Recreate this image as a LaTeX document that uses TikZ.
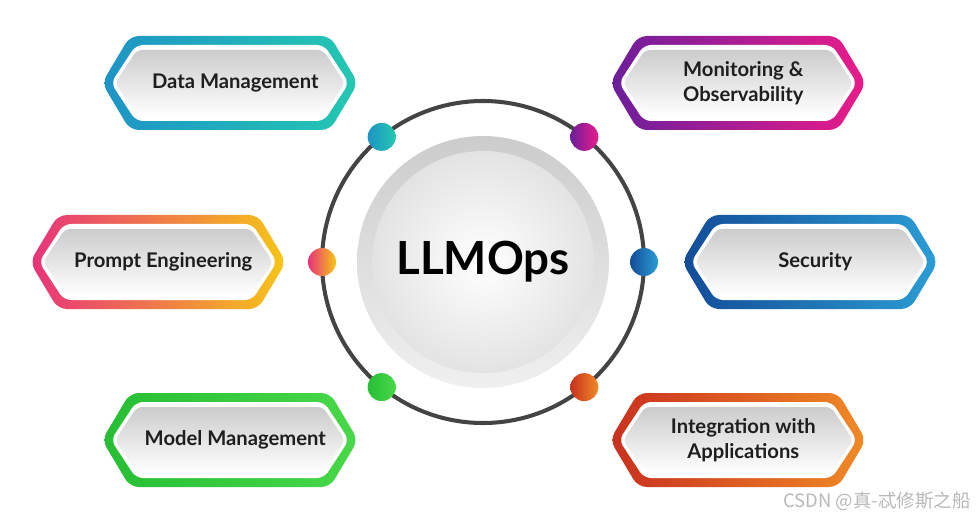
\documentclass[tikz,border=0pt]{standalone}
\usepackage{fontspec}
\setmainfont{Lato}
\newfontfamily\cjkfont{Noto Sans CJK SC}
\usepackage{tikz}
\usetikzlibrary{calc}
\definecolor{DataBlue}{HTML}{1E94C6}
\definecolor{DataTeal}{HTML}{24C8B2}
\definecolor{MonPurple}{HTML}{6C1E9C}
\definecolor{MonPink}{HTML}{EA1C8A}
\definecolor{PromptPink}{HTML}{E8327C}
\definecolor{PromptYellow}{HTML}{F6C616}
\definecolor{SecNavy}{HTML}{134C98}
\definecolor{SecSky}{HTML}{2B9DD4}
\definecolor{ModelGreen}{HTML}{26BE34}
\definecolor{ModelLime}{HTML}{48D84A}
\definecolor{IntRed}{HTML}{C9301F}
\definecolor{IntOrange}{HTML}{F08A26}
\definecolor{RingGrey}{HTML}{444444}
\definecolor{DiscGrey}{HTML}{CCCCCC}
\definecolor{TextDark}{HTML}{1E1E1E}

\newcommand{\hexpath}[3]{(-#1,0) -- (-#1+#3,#2) -- (#1-#3,#2) -- (#1,0) -- (#1-#3,-#2) -- (-#1+#3,-#2) -- cycle}
\newcommand{\hexbox}[5]{%
  \begin{scope}[shift={(#2)}]
    \shade[rounded corners=5pt,left color=#3,right color=#4] \hexpath{128}{47}{28};
    \fill[white,rounded corners=4pt] \hexpath{119}{38}{25};
    \shade[rounded corners=3pt,top color=DiscGrey,bottom color=white] \hexpath{115}{33}{22};
  \end{scope}
  \node[boxlabel] (#1) at (#2) {#5};}

\begin{document}
\begin{tikzpicture}[x=0.02cm,y=0.02cm,
  boxlabel/.style={font=\fontsize{11.5}{14}\selectfont\bfseries,text=TextDark,align=center,xshift=3pt}]
  \useasboundingbox (0,0) rectangle (976,521);
  \fill[white] (0,0) rectangle (976,521);
  % hub
  \coordinate (hub) at (483,259);
  \draw[RingGrey,line width=2.3pt] (hub) circle[radius=161];
  \shade[top color=gray!40,bottom color=gray!12] (hub) circle[radius=126];
  \shade[inner color=white,outer color=gray!22] (hub) circle[radius=111];
  \node[font=\fontsize{26}{30}\selectfont\bfseries,text=black] (llmops) at (hub) {LLMOps};
  % dots on the ring
  \shade[left color=DataBlue,right color=DataTeal] ($(hub)+(129:161)$) circle[radius=14];
  \shade[left color=MonPurple,right color=MonPink] ($(hub)+(51:161)$) circle[radius=14];
  \shade[left color=PromptPink,right color=PromptYellow] ($(hub)+(180:161)$) circle[radius=14];
  \shade[left color=SecNavy,right color=SecSky] ($(hub)+(0:161)$) circle[radius=14];
  \shade[left color=ModelGreen,right color=ModelLime] ($(hub)+(231:161)$) circle[radius=14];
  \shade[left color=IntRed,right color=IntOrange] ($(hub)+(309:161)$) circle[radius=14];
  % boxes
  \hexbox{data}{230,438}{DataBlue}{DataTeal}{Data Management}
  \hexbox{monitor}{738,438}{MonPurple}{MonPink}{Monitoring \&\\Observability}
  \hexbox{prompt}{158,259}{PromptPink}{PromptYellow}{Prompt Engineering}
  \hexbox{security}{810,259}{SecNavy}{SecSky}{Security}
  \hexbox{model}{230,81}{ModelGreen}{ModelLime}{Model Management}
  \hexbox{integr}{738,81}{IntRed}{IntOrange}{Integration with\\Applications}
  \node[font=\cjkfont\fontsize{10.5}{12}\selectfont,text=gray!55] (mark) at (877,20) {CSDN @真-忒修斯之船};
\end{tikzpicture}
\end{document}
